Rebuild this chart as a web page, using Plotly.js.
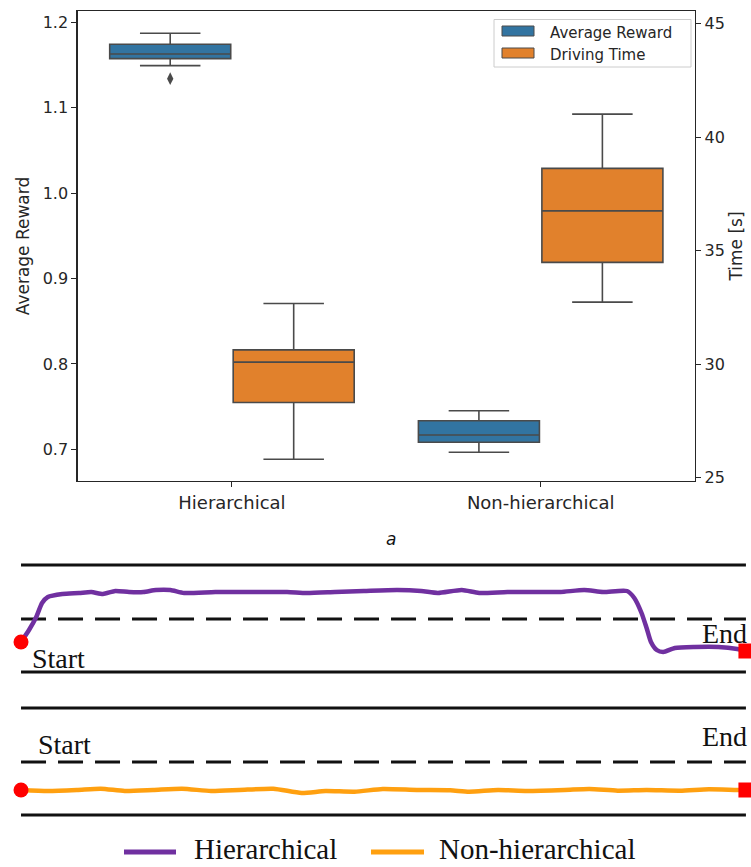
<!DOCTYPE html>
<html><head><meta charset="utf-8">
<script src="https://cdn.plot.ly/plotly-3.0.1.min.js"></script>
<style>html,body{margin:0;padding:0;background:#fff}#chart{width:751px;height:867px}</style>
</head><body><div id="chart"></div>
<script>
// ---------- box plot data ----------
const categories = ['Hierarchical', 'Non-hierarchical'];
// Average Reward (left axis)
const rewardQ1 = [1.1574, 0.7082];
const rewardMedian = [1.1629, 0.7168];
const rewardQ3 = [1.1742, 0.7335];
const rewardLower = [1.1492, 0.6965];
const rewardUpper = [1.1871, 0.7452];
const rewardOutliers = [[1.134], []];
// Driving Time [s] (right axis)
const timeQ1 = [28.31, 34.48];
const timeMedian = [30.09, 36.75];
const timeQ3 = [30.63, 38.62];
const timeLower = [25.81, 32.73];
const timeUpper = [32.67, 41.01];
const rewardTicks = [0.7, 0.8, 0.9, 1.0, 1.1, 1.2];
const timeTicks = [25, 30, 35, 40, 45];

// ---------- road / trajectory data ----------
const roadX = [0, 100];
const solidLanes = [0, 10.7];
const dashedLanes = [5.3];
const hierX = [0, 1.1, 2.1, 2.9, 3.7, 5.7, 8.0, 9.7, 11.3, 13.0, 14.9, 16.9, 18.6, 20.6, 22.5, 26.8, 31.4, 36.7, 39.4, 43.3, 47.3, 51.9, 55.2, 57.5, 60.8, 63.2, 67.1, 71.1, 74.4, 77.7, 80.3, 83.6, 84.6, 85.6, 86.3, 86.9, 87.7, 88.6, 90.2, 92.9, 96.2, 98.8, 100];
const hierY = [3.0, 4.2, 5.5, 6.9, 7.5, 7.8, 7.9, 8.0, 7.8, 8.1, 8.0, 8.0, 8.2, 8.2, 7.9, 8.0, 8.0, 8.0, 7.9, 8.0, 8.1, 8.2, 8.1, 7.9, 8.2, 7.9, 8.0, 8.0, 8.0, 8.2, 8.0, 8.1, 7.4, 5.9, 4.4, 3.0, 2.2, 2.0, 2.4, 2.5, 2.5, 2.3, 2.1];
const nonHierX = [0, 3.7, 7.7, 11.0, 14.3, 18.2, 22.2, 26.2, 30.1, 34.8, 38.7, 42.0, 46.0, 49.9, 54.6, 59.2, 61.8, 65.8, 69.8, 75.0, 78.4, 82.3, 86.3, 90.9, 94.9, 98.8, 100];
const nonHierY = [2.50, 2.40, 2.50, 2.63, 2.40, 2.50, 2.63, 2.40, 2.50, 2.63, 2.20, 2.40, 2.33, 2.60, 2.50, 2.47, 2.33, 2.50, 2.40, 2.50, 2.60, 2.43, 2.50, 2.43, 2.57, 2.50, 2.50];

const BLUE = '#3274a1', ORANGE = '#e1812c', EDGE = '#4a4a4a';
const PURPLE = '#7030a0', TRAJ_ORANGE = '#ffa010';
const INK = '#262626';
const sans = 'DejaVu Sans, sans-serif';
const serif = 'Liberation Serif, Times New Roman, serif';

const traces = [];
traces.push({
  type: 'box', name: 'Average Reward', x: categories,
  q1: rewardQ1, median: rewardMedian, q3: rewardQ3,
  lowerfence: rewardLower, upperfence: rewardUpper,
  y: rewardOutliers, boxpoints: 'outliers',
  marker: {symbol: 'diamond-tall', size: 9, color: EDGE, line: {width: 0}},
  fillcolor: BLUE, line: {color: EDGE, width: 1.6}, whiskerwidth: 0.5,
  offsetgroup: 'reward', alignmentgroup: 'g',
  xaxis: 'x', yaxis: 'y', showlegend: false, hoverinfo: 'skip'
});
traces.push({
  type: 'box', name: 'Driving Time', x: categories,
  q1: timeQ1, median: timeMedian, q3: timeQ3,
  lowerfence: timeLower, upperfence: timeUpper,
  boxpoints: false,
  fillcolor: ORANGE, line: {color: EDGE, width: 1.6}, whiskerwidth: 0.5,
  offsetgroup: 'time', alignmentgroup: 'g',
  xaxis: 'x', yaxis: 'y2', showlegend: false, hoverinfo: 'skip'
});

// roads
[['x3', 'y3'], ['x4', 'y4']].forEach(([xa, ya]) => {
  solidLanes.forEach(v => traces.push({
    type: 'scatter', mode: 'lines', x: roadX, y: roadX.map(() => v),
    line: {color: '#111', width: 3.2}, xaxis: xa, yaxis: ya, showlegend: false, hoverinfo: 'skip'
  }));
  dashedLanes.forEach(v => traces.push({
    type: 'scatter', mode: 'lines', x: roadX, y: roadX.map(() => v),
    line: {color: '#111', width: 3.2, dash: '25px,12px'}, xaxis: xa, yaxis: ya, showlegend: false, hoverinfo: 'skip'
  }));
});

function addTraj(xs, ys, color, xa, ya) {
  traces.push({
    type: 'scatter', mode: 'lines', x: xs, y: ys,
    line: {color: color, width: 4.5, shape: 'spline', smoothing: 0.6},
    xaxis: xa, yaxis: ya, showlegend: false, hoverinfo: 'skip'
  });
  traces.push({
    type: 'scatter', mode: 'markers', x: [xs[0], xs[xs.length - 1]], y: [ys[0], ys[ys.length - 1]],
    marker: {symbol: ['circle', 'square'], size: 15, color: '#ff0000', line: {width: 0}},
    cliponaxis: false, xaxis: xa, yaxis: ya, showlegend: false, hoverinfo: 'skip'
  });
}
addTraj(hierX, hierY, PURPLE, 'x3', 'y3');
addTraj(nonHierX, nonHierY, TRAJ_ORANGE, 'x4', 'y4');

const W = 751, H = 867;
const px = v => v / W, py = v => 1 - v / H;

const shapes = [
  // top legend frame
  {type: 'rect', xref: 'paper', yref: 'paper', x0: px(494), x1: px(691), y0: py(67), y1: py(19.5),
   line: {color: '#cccccc', width: 1}, fillcolor: 'rgba(255,255,255,0.8)'},
  {type: 'rect', xref: 'paper', yref: 'paper', x0: px(502), x1: px(534), y0: py(36), y1: py(26),
   line: {color: EDGE, width: 1}, fillcolor: BLUE},
  {type: 'rect', xref: 'paper', yref: 'paper', x0: px(502), x1: px(534), y0: py(58), y1: py(48),
   line: {color: EDGE, width: 1}, fillcolor: ORANGE},
  // bottom legend lines
  {type: 'line', xref: 'paper', yref: 'paper', x0: px(124), x1: px(176), y0: py(852), y1: py(852),
   line: {color: PURPLE, width: 5}},
  {type: 'line', xref: 'paper', yref: 'paper', x0: px(371), x1: px(424), y0: py(852), y1: py(852),
   line: {color: TRAJ_ORANGE, width: 5}}
];

const ann = (text, x, y, size, family, xanchor, extra) => Object.assign({
  text, x: px(x), y: py(y), xref: 'paper', yref: 'paper', showarrow: false,
  xanchor: xanchor || 'center', yanchor: 'middle', font: {size, family, color: '#111'}
}, extra || {});

const annotations = [
  ann('Average Reward', 548, 32.7, 15, sans, 'left', {font: {size: 15, family: sans, color: INK}}),
  ann('Driving Time', 548, 54.7, 15, sans, 'left', {font: {size: 15, family: sans, color: INK}}),
  ann('<i>a</i>', 391, 539, 17, sans),
  ann('Start', 58.5, 658.5, 28, serif),
  ann('End', 724, 633, 28, serif),
  ann('Start', 64.5, 744.5, 28, serif),
  ann('End', 724.5, 736.5, 28, serif),
  ann('Hierarchical', 192, 849, 29, serif, 'left'),
  ann('Non-hierarchical', 437, 849, 29, serif, 'left')
];

const layout = {
  width: W, height: H, margin: {l: 0, r: 0, t: 0, b: 0},
  paper_bgcolor: '#fff', plot_bgcolor: '#fff', showlegend: false,
  boxmode: 'group', boxgap: 0.2, boxgroupgap: 0.02,
  font: {family: sans, color: INK},
  xaxis: {
    domain: [px(77.6), px(695)], anchor: 'y', type: 'category', categoryarray: categories,
    range: [-0.5, 1.5], showline: true, mirror: true, linecolor: INK, linewidth: 1.3,
    ticks: 'outside', ticklen: 5, tickcolor: INK, tickfont: {size: 18, family: sans, color: INK},
    showgrid: false, zeroline: false, fixedrange: true
  },
  yaxis: {
    domain: [py(481), py(11)], anchor: 'x', range: [0.6629, 1.2132],
    tickvals: rewardTicks, tickformat: '.1f', ticks: 'outside', ticklen: 5, tickcolor: INK,
    tickfont: {size: 16, family: sans, color: INK}, showline: true, linecolor: INK, linewidth: 1.3,
    showgrid: false, zeroline: false,
    title: {text: 'Average Reward', font: {size: 17, family: sans, color: INK}, standoff: 8}
  },
  yaxis2: {
    overlaying: 'y', side: 'right', anchor: 'x', range: [24.855, 45.55],
    tickvals: timeTicks, ticks: 'outside', ticklen: 5, tickcolor: INK,
    tickfont: {size: 16, family: sans, color: INK}, showline: true, linecolor: INK, linewidth: 1.3,
    showgrid: false, zeroline: false,
    title: {text: 'Time [s]', font: {size: 17, family: sans, color: INK}, standoff: 6}
  },
  xaxis3: {domain: [0, 1], anchor: 'y3', range: [-2.9, 100.7], visible: false},
  yaxis3: {domain: [py(687), py(550)], anchor: 'x3', range: [-1.5, 12.2], visible: false},
  xaxis4: {domain: [0, 1], anchor: 'y4', range: [-2.9, 100.7], visible: false},
  yaxis4: {domain: [py(830), py(693)], anchor: 'x4', range: [-1.5, 12.2], visible: false},
  shapes, annotations
};

Plotly.newPlot('chart', traces, layout, {displayModeBar: false, staticPlot: true});
</script></body></html>
